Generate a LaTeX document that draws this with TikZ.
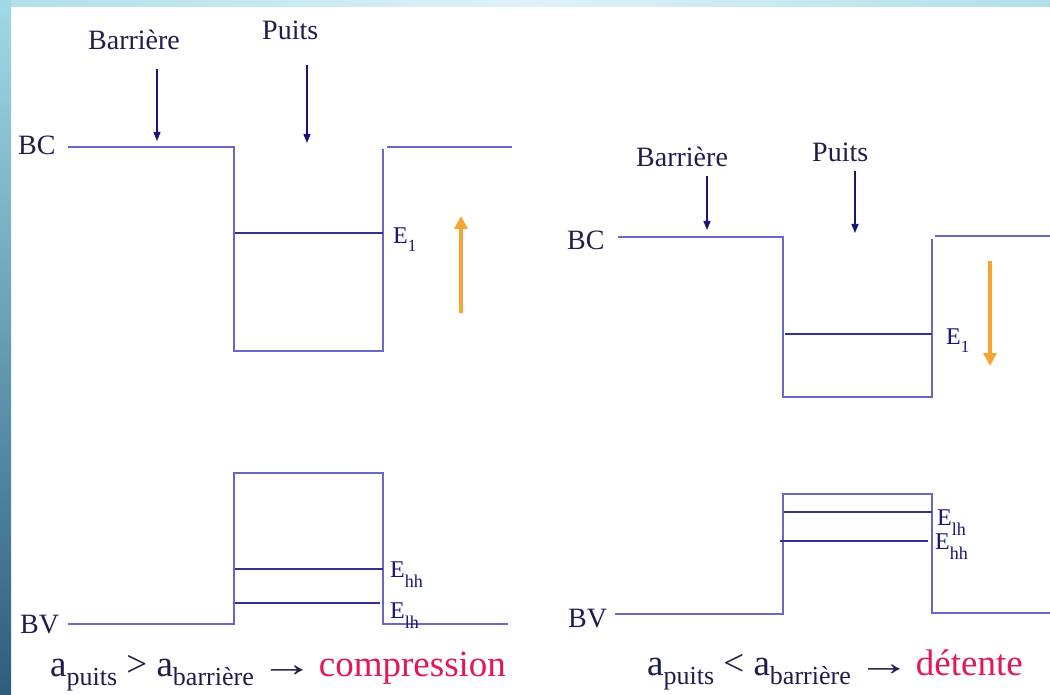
\documentclass[tikz,border=0pt]{standalone}
\usepackage{graphicx}
\usepackage{fontspec}
\setmainfont{Liberation Serif}
\usetikzlibrary{arrows.meta}
\definecolor{wall}{RGB}{104,104,200}
\definecolor{lvl}{RGB}{50,50,150}
\definecolor{navy}{RGB}{22,22,120}
\definecolor{txt}{RGB}{30,30,75}
\definecolor{orng}{RGB}{247,165,50}
\definecolor{pinkred}{RGB}{228,24,84}
\definecolor{stripT}{RGB}{160,218,230}
\definecolor{stripM}{RGB}{110,185,205}
\definecolor{stripB}{RGB}{46,92,125}
\definecolor{topL}{RGB}{175,224,234}
\definecolor{topM}{RGB}{222,242,247}
\newcommand{\lowsub}[3]{\raisebox{-#2pt}{\fontsize{#1}{#1}\selectfont #3}}
\newcommand{\longarr}{\hspace{-3pt}\scalebox{1.45}[1]{→}\hspace{-4pt}}
\tikzset{
  band/.style={draw=wall, line width=1.8pt, line join=miter},
  level/.style={draw=lvl, line width=1.8pt},
  navyarrow/.style={draw=navy, line width=1.3pt, -{Triangle[length=9pt,width=7pt]}},
  orangearrow/.style={draw=orng, line width=3.5pt, -{Triangle[length=13pt,width=13pt]}},
  lab/.style={text=txt, inner sep=0pt, anchor=base west, font=\fontsize{28}{30}\selectfont},
  elab/.style={text=navy, inner sep=0pt, anchor=base west, font=\fontsize{24}{26}\selectfont},
  bottomtext/.style={text=txt, inner sep=0pt, anchor=base west, font=\fontsize{37}{40}\selectfont}
}
\begin{document}
\begin{tikzpicture}[x=1pt,y=-1pt]
\useasboundingbox (0,0) rectangle (1050,695);
% background
\fill[white] (0,0) rectangle (1050,695);
\shade[top color=stripT, middle color=stripM, bottom color=stripB] (0,0) rectangle (11,695);
\shade[left color=topL, right color=topL, middle color=topM] (11,0) rectangle (1050,7);

% ---------- LEFT: conduction band ----------
\coordinate (lc1) at (68,147);
\coordinate (lc2) at (234,147);
\coordinate (lc3) at (234,351);
\coordinate (lc4) at (383,351);
\coordinate (lc5) at (383,149);
\coordinate (lc6) at (387,147);
\coordinate (lc7) at (512,147);
\draw[band] (lc1) -- (lc2) -- (lc3) -- (lc4) -- (lc5);
\draw[band] (lc6) -- (lc7);
\coordinate (le1a) at (235,233);
\coordinate (le1b) at (383,233);
\draw[level] (le1a) -- (le1b);

\node[lab] (lBC) at (18,155) {BC};
\node[lab] (lBar) at (88,50) {Barrière};
\node[lab] (lPuits) at (262,40) {Puits};
\coordinate (lba1) at (157,69);
\coordinate (lba2) at (157,141);
\coordinate (lpa1) at (307,65);
\coordinate (lpa2) at (307,143);
\draw[navyarrow] (lba1) -- (lba2);
\draw[navyarrow] (lpa1) -- (lpa2);
\node[elab] (lE1) at (393,244) {E\lowsub{17}{8}{1}};
\coordinate (lo1) at (461,313);
\coordinate (lo2) at (461,216);
\draw[orangearrow] (lo1) -- (lo2);

% ---------- LEFT: valence band ----------
\coordinate (lv1) at (68,624);
\coordinate (lv2) at (234,624);
\coordinate (lv3) at (234,473);
\coordinate (lv4) at (383,473);
\coordinate (lv5) at (383,624);
\coordinate (lv6) at (508,624);
\draw[band] (lv1) -- (lv2) -- (lv3) -- (lv4) -- (lv5) -- (lv6);
\coordinate (lhha) at (235,569);
\coordinate (lhhb) at (383,569);
\coordinate (llha) at (235,603);
\coordinate (llhb) at (380,603);
\draw[level] (lhha) -- (lhhb);
\draw[level] (llha) -- (llhb);
\node[lab] (lBV) at (20,633) {BV};
\node[elab] (lEhh) at (390,577) {E\lowsub{18}{10}{hh}};
\node[elab] (lElh) at (390,618) {E\lowsub{18}{10}{lh}};

\node[bottomtext] (lform) at (50,676) {a\lowsub{26}{9}{puits} > a\lowsub{26}{9}{barrière} \longarr{} \textcolor{pinkred}{compression}};

% ---------- RIGHT: conduction band ----------
\coordinate (rc1) at (618,237);
\coordinate (rc2) at (783,237);
\coordinate (rc3) at (783,397);
\coordinate (rc4) at (932,397);
\coordinate (rc5) at (932,239);
\coordinate (rc6) at (935,236);
\coordinate (rc7) at (1050,236);
\draw[band] (rc1) -- (rc2) -- (rc3) -- (rc4) -- (rc5);
\draw[band] (rc6) -- (rc7);
\coordinate (re1a) at (785,334);
\coordinate (re1b) at (932,334);
\draw[level] (re1a) -- (re1b);

\node[lab] (rBC) at (567,250) {BC};
\node[lab] (rBar) at (636,167) {Barrière};
\node[lab] (rPuits) at (812,162) {Puits};
\coordinate (rba1) at (707,176);
\coordinate (rba2) at (707,230);
\coordinate (rpa1) at (855,171);
\coordinate (rpa2) at (855,233);
\draw[navyarrow] (rba1) -- (rba2);
\draw[navyarrow] (rpa1) -- (rpa2);
\node[elab] (rE1) at (946,344) {E\lowsub{17}{8}{1}};
\coordinate (ro1) at (990,261);
\coordinate (ro2) at (990,366);
\draw[orangearrow] (ro1) -- (ro2);

% ---------- RIGHT: valence band ----------
\coordinate (rv1) at (615,614);
\coordinate (rv2) at (783,614);
\coordinate (rv3) at (783,494);
\coordinate (rv4) at (932,494);
\coordinate (rv5) at (932,613);
\coordinate (rv6) at (1050,613);
\draw[band] (rv1) -- (rv2) -- (rv3) -- (rv4) -- (rv5) -- (rv6);
\coordinate (rlha) at (784,512);
\coordinate (rlhb) at (932,512);
\coordinate (rhha) at (780,541);
\coordinate (rhhb) at (928,541);
\draw[level] (rlha) -- (rlhb);
\draw[level] (rhha) -- (rhhb);
\node[lab] (rBV) at (568,627) {BV};
\node[elab] (rElh) at (937,525) {E\lowsub{18}{10}{lh}};
\node[elab] (rEhh) at (935,549) {E\lowsub{18}{10}{hh}};

\node[bottomtext] (rform) at (647,675) {a\lowsub{26}{9}{puits} < a\lowsub{26}{9}{barrière} \longarr{} \textcolor{pinkred}{détente}};
\end{tikzpicture}
\end{document}
